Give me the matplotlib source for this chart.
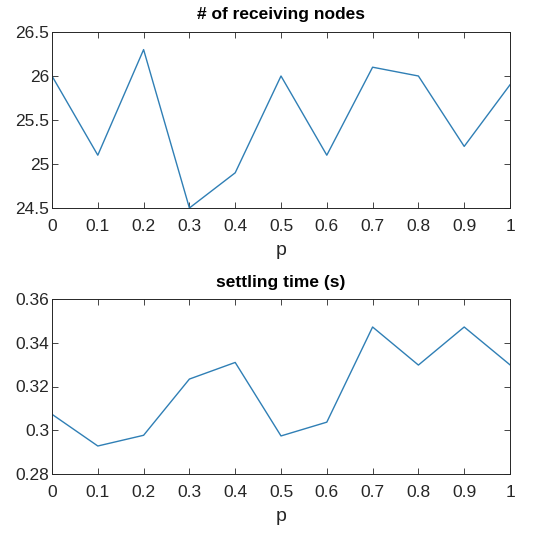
import matplotlib
matplotlib.use('Agg')
import matplotlib.pyplot as plt

# data
p = [0, 0.1, 0.2, 0.3, 0.4, 0.5, 0.6, 0.7, 0.8, 0.9, 1.0]
nodes = [26.0, 25.1, 26.3, 24.5, 24.9, 26.0, 25.1, 26.1, 26.0, 25.2, 25.9]
settling = [0.3073, 0.2928, 0.2977, 0.3234, 0.3310, 0.2974, 0.3037, 0.3472, 0.3298, 0.3472, 0.3299]
xticks = [0, 0.1, 0.2, 0.3, 0.4, 0.5, 0.6, 0.7, 0.8, 0.9, 1]
xlabels = ['0', '0.1', '0.2', '0.3', '0.4', '0.5', '0.6', '0.7', '0.8', '0.9', '1']

plt.rcParams['font.family'] = ['Liberation Sans', 'DejaVu Sans']

line_col = '#2f7fb5'

fig = plt.figure(figsize=(5.35, 5.39), dpi=100)
ax1 = fig.add_axes([52/535, 1 - 208/539, 458/535, 176/539])
ax2 = fig.add_axes([52/535, 1 - 474/539, 458/535, 175/539])


def style(ax, title, ylim, yticks, ylabels):
    ax.set_xlim(0, 1)
    ax.set_ylim(*ylim)
    ax.set_xticks(xticks)
    ax.set_xticklabels(xlabels)
    ax.set_yticks(yticks)
    ax.set_yticklabels(ylabels)
    ax.tick_params(direction='in', top=True, right=True, length=4, width=0.6,
                   labelsize=12.5, colors='#262626', pad=2)
    ax.tick_params(axis='x', pad=8)
    for s in ax.spines.values():
        s.set_linewidth(0.7)
        s.set_color('#262626')
    ax.set_title(title, fontsize=12.5, fontweight='bold', color='black', pad=9)
    ax.set_xlabel('p', fontsize=14, color='#262626', labelpad=6)


ax1.plot(p, nodes, color=line_col, lw=1.0)
style(ax1, '# of receiving nodes', (24.5, 26.5), [24.5, 25, 25.5, 26, 26.5],
      ['24.5', '25', '25.5', '26', '26.5'])

ax2.plot(p, settling, color=line_col, lw=1.0)
style(ax2, 'settling time (s)', (0.28, 0.36), [0.28, 0.3, 0.32, 0.34, 0.36],
      ['0.28', '0.3', '0.32', '0.34', '0.36'])

fig.savefig('out.png', dpi=100)
